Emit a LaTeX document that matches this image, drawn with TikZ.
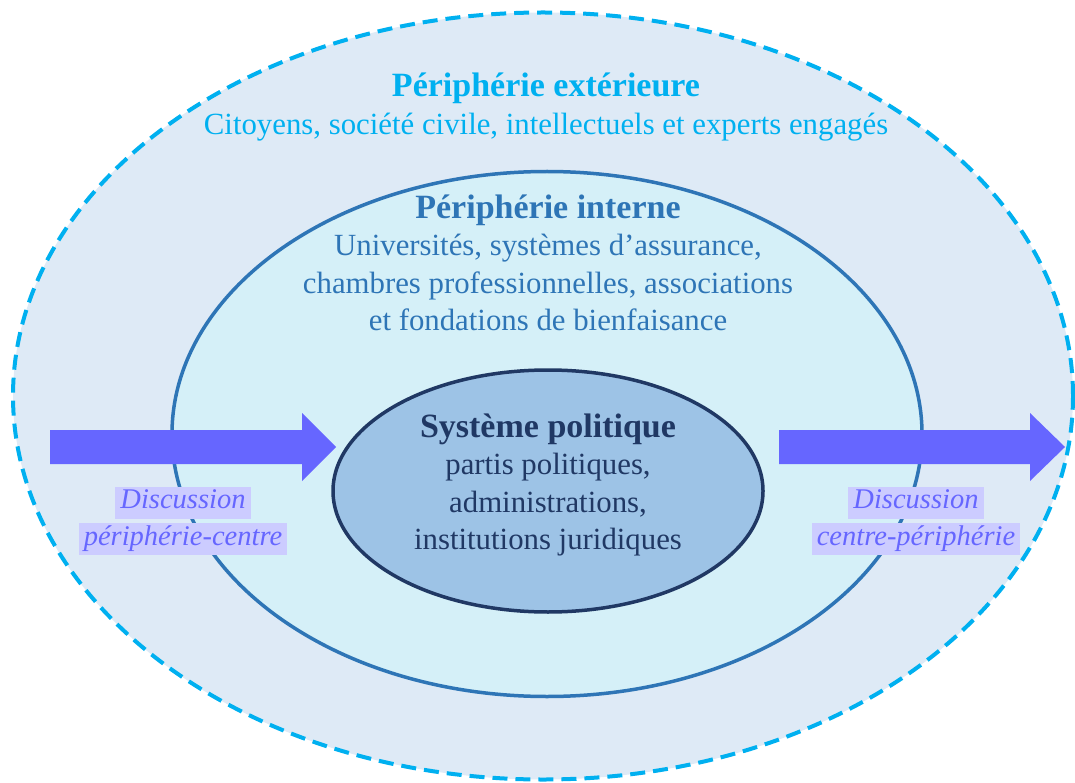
\documentclass[tikz,border=0pt]{standalone}
\usepackage{fontspec}
\setmainfont{Liberation Serif}
\usetikzlibrary{shapes.geometric}
\definecolor{outerfill}{HTML}{DEEAF6}
\definecolor{outerline}{HTML}{00B0F0}
\definecolor{midfill}{HTML}{D5F0F8}
\definecolor{midline}{HTML}{2E75B6}
\definecolor{corefill}{HTML}{9DC3E6}
\definecolor{coreline}{HTML}{203864}
\definecolor{flowcol}{HTML}{6666FF}
\definecolor{flowhl}{HTML}{CCCCFF}
\newcommand{\zonetitle}[1]{{\fontsize{34}{37.5}\selectfont\bfseries #1}}
\tikzset{
  zone/.style={ellipse, line width=3.5pt, inner sep=0pt},
  zonetext/.style={align=center, inner sep=0pt, font=\fontsize{30.8}{37.5}\selectfont},
  flowtext/.style={font=\fontsize{28.5}{33}\selectfont\itshape, text=flowcol, fill=flowhl,
    inner xsep=5pt, inner ysep=2pt, text height=20pt, text depth=8pt}
}
\begin{document}
\begin{tikzpicture}[x=1pt,y=-1pt]
\useasboundingbox (0,0) rectangle (1075,783);
% Périphérie extérieure
\node[zone, draw=outerline, fill=outerfill, line width=4pt, dash pattern=on 15pt off 8pt,
  minimum width=1060pt, minimum height=767pt] (outer) at (543,396) {};
% Périphérie interne
\node[zone, draw=midline, fill=midfill, minimum width=750pt, minimum height=525pt] (mid) at (547,434) {};
% Système politique
\node[zone, draw=coreline, fill=corefill, minimum width=430pt, minimum height=242pt] (core) at (548,491) {};

\node[zonetext, text=outerline] (outertxt) at (546,107)
  {\zonetitle{Périphérie extérieure}\\Citoyens, société civile, intellectuels et experts engagés};
\node[zonetext, text=midline] (midtxt) at (548,263)
  {\zonetitle{Périphérie interne}\\Universités, systèmes d’assurance,\\chambres professionnelles, associations\\et fondations de bienfaisance};
\node[zonetext, text=coreline] (coretxt) at (548,485)
  {\zonetitle{Système politique}\\partis politiques,\\administrations,\\institutions juridiques};

% flèches de discussion
\foreach \xa/\xb/\xc in {50/302/336, 779/1030/1065} {
    \fill[flowcol] (\xa,430) -- (\xb,430) -- (\xb,413) -- (\xc,447) -- (\xb,481) -- (\xb,464) -- (\xa,464) -- cycle;
}
\node[flowtext] (inlbl1) at (183,502.5) {Discussion};
\node[flowtext] (inlbl2) at (183,539) {périphérie-centre};
\node[flowtext] (outlbl1) at (916,502.5) {Discussion};
\node[flowtext] (outlbl2) at (916,539) {centre-périphérie};
\end{tikzpicture}
\end{document}
